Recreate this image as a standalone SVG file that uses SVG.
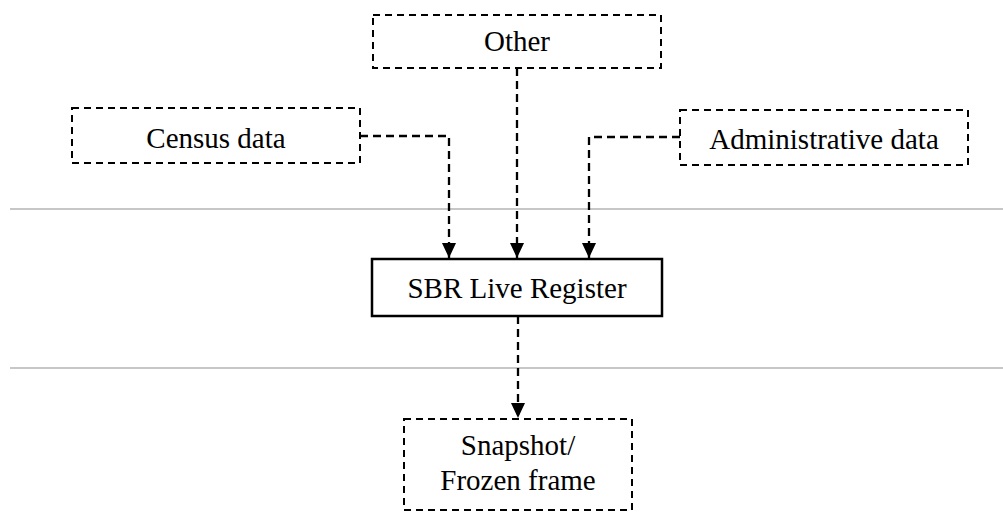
<svg xmlns="http://www.w3.org/2000/svg" width="1003" height="527" viewBox="0 0 1003 527">
  <style>
    .box { fill: #ffffff; stroke: #000000; stroke-width: 2; stroke-dasharray: 7 5; }
    .solid { fill: #ffffff; stroke: #000000; stroke-width: 2.5; }
    .lbl { font-family: "Liberation Serif", "Times New Roman", serif; font-size: 29px; fill: #000000; text-anchor: middle; }
    .sep { stroke: #b4b4b4; stroke-width: 1.3; }
    .conn { fill: none; stroke: #000000; stroke-width: 2.3; stroke-dasharray: 8 5; }
  </style>
  <defs>
    <marker id="arrow" markerWidth="15" markerHeight="14" refX="15" refY="7" orient="auto" markerUnits="userSpaceOnUse">
      <path d="M0,0 L15,7 L0,14 Z" fill="#000000"/>
    </marker>
  </defs>

  <!-- separators -->
  <line class="sep" x1="10" y1="209" x2="1003" y2="209"/>
  <line class="sep" x1="10" y1="368" x2="1003" y2="368"/>

  <!-- connectors -->
  <g id="connectors">
    <path class="conn" d="M517,68 V258" marker-end="url(#arrow)"/>
    <path class="conn" d="M360,136 H449 V258" marker-end="url(#arrow)"/>
    <path class="conn" d="M680,137 H589 V258" marker-end="url(#arrow)"/>
    <path class="conn" d="M518,316 V418" marker-end="url(#arrow)"/>
  </g>

  <g id="other">
    <rect class="box" x="373" y="15" width="288" height="53"/>
    <text class="lbl" x="517" y="51">Other</text>
  </g>

  <g id="census">
    <rect class="box" x="72" y="108" width="288" height="55"/>
    <text class="lbl" x="216" y="148">Census data</text>
  </g>

  <g id="admin">
    <rect class="box" x="680" y="110" width="288" height="55"/>
    <text class="lbl" x="824" y="149">Administrative data</text>
  </g>

  <g id="sbr">
    <rect class="solid" x="372" y="259" width="290" height="57"/>
    <text class="lbl" x="517" y="298">SBR Live Register</text>
  </g>

  <g id="snapshot">
    <rect class="box" x="404" y="419" width="228" height="91"/>
    <text class="lbl" x="518" y="455">Snapshot/</text>
    <text class="lbl" x="518" y="490">Frozen frame</text>
  </g>
</svg>
